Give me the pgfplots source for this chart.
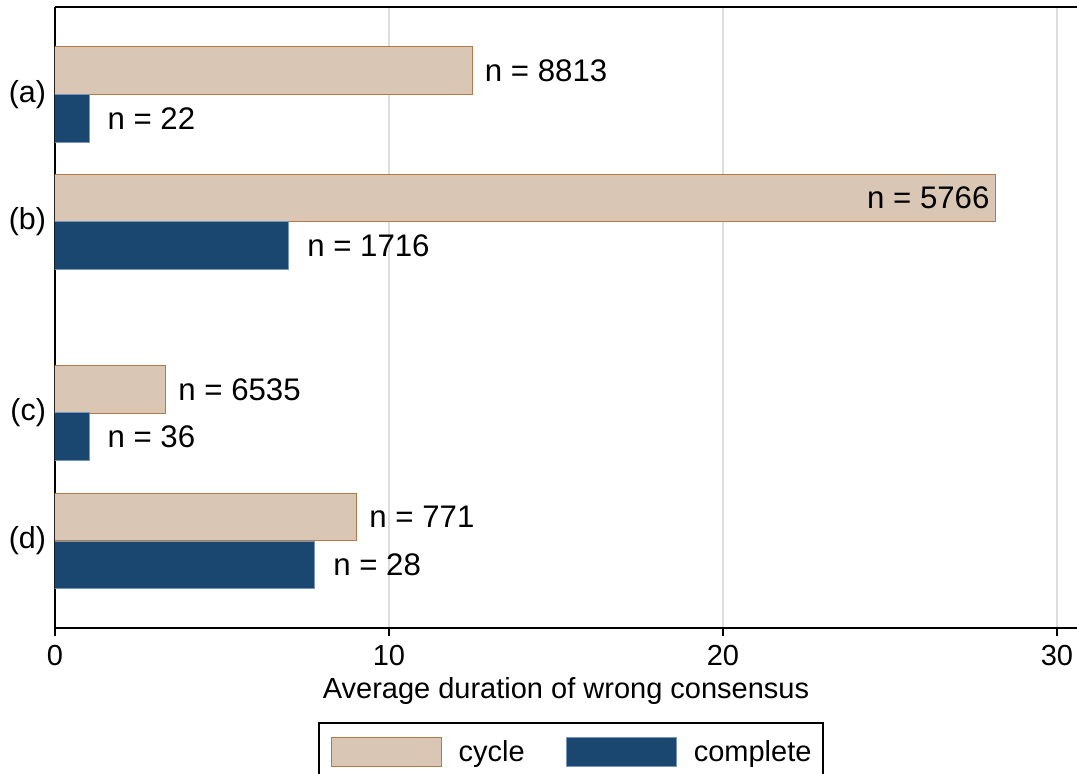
\documentclass[border=0pt]{standalone}
\usepackage{pgfplots}
\pgfplotsset{compat=1.18}
\usepackage{fontspec}
\setmainfont{Liberation Sans}
\definecolor{sandc}{RGB}{217,198,180}
\definecolor{sandl}{RGB}{178,122,70}
\definecolor{navyc}{RGB}{26,71,111}
\definecolor{navyl}{RGB}{120,150,185}
\definecolor{gridc}{RGB}{221,221,221}
\begin{document}
\begin{tikzpicture}
\begin{axis}[
  scale only axis,
  width=511pt, height=310.5pt,
  xmin=0, xmax=30.6,
  ymin=7, ymax=628,
  y dir=reverse,
  axis lines*=left,
  axis line style={-, line width=1pt, black},
  xtick={0,10,20,30},
  ytick={95,222,413,541},
  yticklabels={(a),(b),(c),(d)},
  y tick style={draw=none},
  x tick style={line width=1pt, black},
  tick align=outside,
  major tick length=4pt,
  xmajorgrids,
  major grid style={gridc, line width=1pt},
  /pgf/number format/assume math mode=true,
  tick label style={font=\fontsize{14.5}{17}\selectfont},
  xticklabel style={yshift=-1pt},
  yticklabel style={font=\fontsize{15.2}{17}\selectfont, xshift=3pt},
  xlabel={Average duration of wrong consensus},
  xlabel style={font=\fontsize{14.5}{17}\selectfont, yshift=1pt},
  legend columns=2,
  legend style={at={(0.505,-0.152)}, anchor=north, draw=black, line width=1pt,
    inner xsep=6pt, inner ysep=7pt,
    font=\fontsize{14.5}{17}\selectfont,
    nodes={inner sep=0pt},
    /tikz/every odd column/.append style={column sep=8.5pt},
    /tikz/every even column/.append style={column sep=20.5pt}},
  legend cell align=left,
  legend image code/.code={\draw[#1, line width=0.5pt] (0pt,-7.25pt) rectangle (55pt,7.25pt);},
  nodes near coords,
  point meta=explicit symbolic,
  every node near coord/.append style={font=\fontsize{15.6}{18}\selectfont, anchor=west, inner sep=0pt, xshift=6pt, black},
]
\addplot[xbar, bar width=47.5, bar shift=0pt, fill=sandc, draw=sandl, line width=0.5pt]
  coordinates {(12.5,70.5)[n = 8813] (28.17,198)[] (3.32,389.5)[n = 6535] (9.04,517)[n = 771]};
\addlegendentry{cycle}
\addplot[xbar, bar width=47.5, bar shift=0pt, fill=navyc, draw=navyl, line width=0.5pt,
  every node near coord/.append style={xshift=3pt}]
  coordinates {(1.02,118.5)[n = 22] (7.0,245.5)[n = 1716] (1.02,436.5)[n = 36] (7.78,565)[n = 28]};
\addlegendentry{complete}
\addplot[draw=none, mark=none, forget plot,
  every node near coord/.append style={anchor=east, xshift=-9pt}]
  coordinates {(28.17,198)[n = 5766]};
\draw[line width=1pt, black] (axis cs:0,7) -- (axis cs:30.6,7);
\end{axis}
\pgfresetboundingbox
\path (-27.5pt,-73pt) rectangle (511pt,314pt);
\end{tikzpicture}
\end{document}
